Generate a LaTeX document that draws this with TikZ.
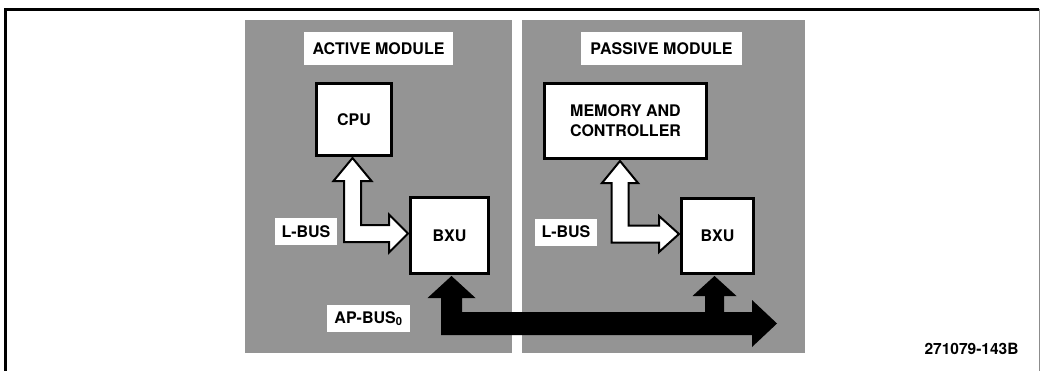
\documentclass[tikz,border=0pt]{standalone}
\usepackage{fontspec}
\setmainfont{TeX Gyre Heros}
\usetikzlibrary{calc}
\begin{document}
\begin{tikzpicture}[x=1pt,y=-1pt,
  every node/.style={font=\fontsize{16}{20}\selectfont\bfseries},
  panel/.style={fill=black!42,draw=none},
  unitbox/.style={draw=black,line width=3pt,fill=white,align=center,inner sep=0pt},
  lbl/.style={fill=white,inner xsep=7pt,inner ysep=0pt,minimum height=27pt},
  hollowbus/.style={fill=white,draw=black,line width=2pt,line join=miter},
  solidbus/.style={fill=black,draw=none}]
\useasboundingbox (0,0) rectangle (1040,370);
% frame
\draw[line width=3pt] (5.5,372) -- (5.5,9) -- (1039,9);
\draw[line width=0.8pt,black!45] (1039,9) -- (1039,372);
% panels
\fill[panel] (245,20) rectangle (512,353);
\fill[panel] (522,20) rectangle (805,353);
% titles
\node[lbl,minimum height=33pt,inner xsep=9pt] (tact) at (378.5,48.5) {ACTIVE MODULE};
\node[lbl,minimum height=33pt,inner xsep=9pt] (tpas) at (661.5,48.5) {PASSIVE MODULE};
% units
\node[unitbox,minimum width=75pt,minimum height=72pt] (cpu) at (354,119.5) {CPU};
\node[unitbox,minimum width=162pt,minimum height=75pt] (mem) at (625.5,121) {MEMORY AND\\CONTROLLER};
\node[unitbox,minimum width=78pt,minimum height=76pt] (bxu1) at (449.5,235.5) {BXU};
\node[unitbox,minimum width=72pt,minimum height=75pt] (bxu2) at (717.5,236) {BXU};
% bus labels
\node[lbl] (lbus1) at (306,231.5) {L-BUS};
\node[lbl] (lbus2) at (566,232) {L-BUS};
\node[lbl] (apbus) at (368.5,318.5) {AP-BUS\textsubscript{0}};
\node[font=\fontsize{15.5}{18}\selectfont\bfseries] (fig) at (971.5,349) {271079-143B};
% bus end point
\coordinate (busend) at (777,323.5);
% left L-bus
\path[hollowbus] let \p1=([xshift=-1.5pt,yshift=-1pt]cpu.south), \p2=([xshift=-1pt,yshift=2pt]bxu1.west) in
  (\x1,\y1) -- (\x1+19pt,\y1-23pt) -- (\x1+8.5pt,\y1-23pt) -- (\x1+8.5pt,\y2+8.5pt)
  -- (\x2-19pt,\y2+8.5pt) -- (\x2-19pt,\y2+19pt) -- (\x2,\y2) -- (\x2-19pt,\y2-19pt)
  -- (\x2-19pt,\y2-8.5pt) -- (\x1-8.5pt,\y2-8.5pt) -- (\x1-8.5pt,\y1-23pt)
  -- (\x1-19pt,\y1-23pt) -- cycle;
% right L-bus
\path[hollowbus] let \p1=([xshift=-5.5pt,yshift=-1pt]mem.south), \p2=([xshift=-1pt,yshift=2pt]bxu2.west) in
  (\x1,\y1) -- (\x1+18pt,\y1-22pt) -- (\x1+8.5pt,\y1-22pt) -- (\x1+8.5pt,\y2+8.5pt)
  -- (\x2-20pt,\y2+8.5pt) -- (\x2-20pt,\y2+18pt) -- (\x2,\y2) -- (\x2-20pt,\y2-18pt)
  -- (\x2-20pt,\y2-8.5pt) -- (\x1-8.5pt,\y2-8.5pt) -- (\x1-8.5pt,\y1-22pt)
  -- (\x1-18pt,\y1-22pt) -- cycle;
% AP-bus
\path[solidbus] let \p1=([xshift=2pt,yshift=-1pt]bxu1.south), \p2=([xshift=-3pt,yshift=-1pt]bxu2.south), \p3=(busend) in
  (\x1,\y1) -- (\x1+24pt,\y1-22pt) -- (\x1+10.5pt,\y1-22pt) -- (\x1+10.5pt,\y3+11.5pt)
  -- (\x2-9.5pt,\y3+11.5pt) -- (\x2-9.5pt,\y2-20pt) -- (\x2-22pt,\y2-20pt) -- (\x2,\y2)
  -- (\x2+22pt,\y2-20pt) -- (\x2+9.5pt,\y2-20pt) -- (\x2+9.5pt,\y3+11.5pt)
  -- (\x3-25pt,\y3+11.5pt) -- (\x3-25pt,\y3+23.5pt) -- (\x3,\y3) -- (\x3-25pt,\y3-23.5pt)
  -- (\x3-25pt,\y3-11.5pt) -- (\x1-10.5pt,\y3-11.5pt) -- (\x1-10.5pt,\y1-22pt)
  -- (\x1-24pt,\y1-22pt) -- cycle;
\end{tikzpicture}
\end{document}
